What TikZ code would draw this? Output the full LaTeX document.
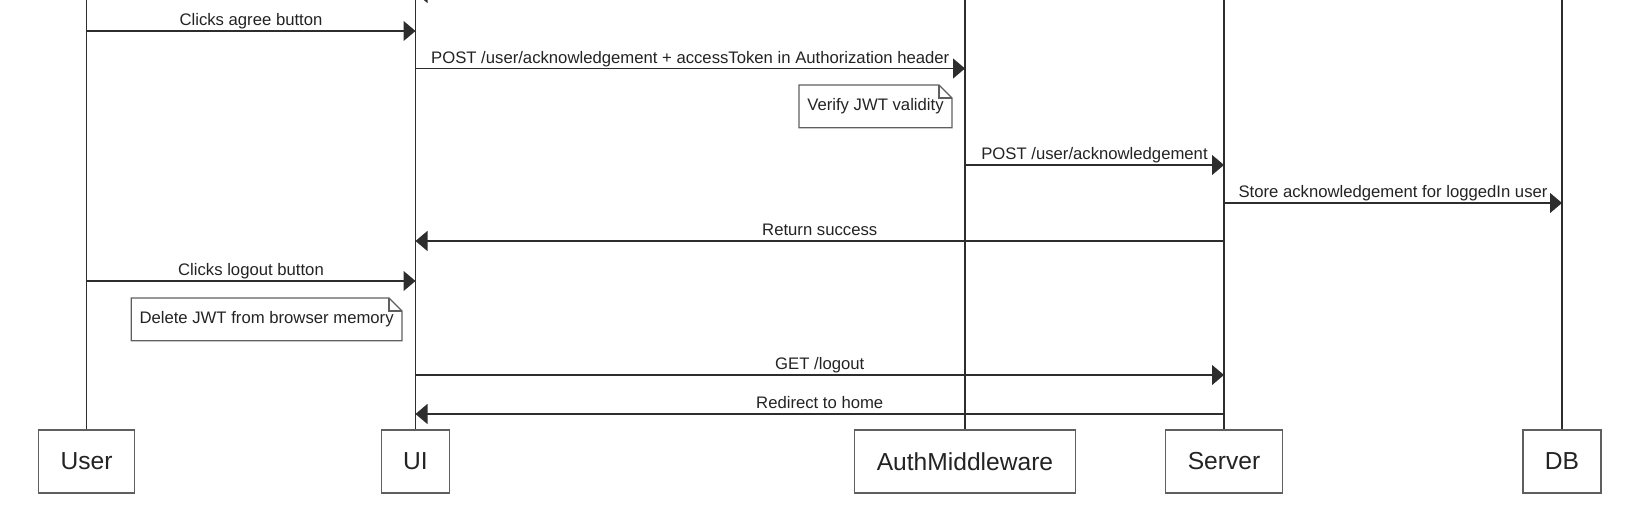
\documentclass[tikz,border=0pt]{standalone}
\usepackage{fontspec}
\setmainfont{Liberation Sans}
\usetikzlibrary{positioning,arrows.meta}
\definecolor{lineclr}{RGB}{45,45,45}
\definecolor{boxline}{RGB}{95,95,95}
\definecolor{txtclr}{RGB}{35,35,35}
% note with a folded top-right corner, drawn round a named node
\newcommand{\notefold}[1]{%
  \draw[noteline] (#1.north west) -- ([xshift=-0.26cm]#1.north east) -- ([yshift=-0.26cm]#1.north east) -- (#1.south east) -- (#1.south west) -- cycle;
  \draw[noteline] ([xshift=-0.26cm]#1.north east) |- ([yshift=-0.26cm]#1.north east);}

\begin{document}
\begin{tikzpicture}[x=0.02cm, y=-0.02cm,
  font=\fontsize{9.5}{11}\selectfont, text=txtclr,
  actor/.style={draw=boxline, line width=0.7pt, fill=white, minimum height=1.26cm, inner xsep=0.44cm, font=\fontsize{14}{16}\selectfont},
  life/.style={draw=lineclr, line width=0.6pt},
  arr/.style={draw=lineclr, line width=0.7pt, -{Triangle[length=0.24cm, width=0.4cm]}},
  lab/.style={anchor=base, yshift=0.1cm, inner sep=0pt},
  note/.style={minimum height=0.84cm, inner xsep=0.16cm},
  noteline/.style={draw=boxline, line width=0.7pt}]

\useasboundingbox (0,0) rectangle (1647,509);

% participants along the bottom
\node[actor] (user) at (86.5,461.5) {User};
\node[actor] (ui) at (415.5,461.5) {UI};
\node[actor] (auth) at (965,461.5) {AuthMiddleware};
\node[actor] (server) at (1224,461.5) {Server};
\node[actor] (db) at (1562,461.5) {DB};

% lifelines run off the top edge
\draw[life] (user.north) -- (user.north |- 0,-30);
\draw[life] (ui.north) -- (ui.north |- 0,-30);
\draw[life] (auth.north) -- (auth.north |- 0,-30);
\draw[life] (server.north) -- (server.north |- 0,-30);
\draw[life] (db.north) -- (db.north |- 0,-30);

% messages, top to bottom
\draw[arr] (server.north |- 0,-7) -- (ui.north |- 0,-7);
\draw[arr] (user.north |- 0,31) -- node[lab] {Clicks agree button} (ui.north |- 0,31);
\draw[arr] (ui.north |- 0,68.5) -- node[lab] {POST /user/acknowledgement + accessToken in Authorization header} (auth.north |- 0,68.5);
\node[note, anchor=north east] (verify) at (952,85) {Verify JWT validity};
\notefold{verify}
\draw[arr] (auth.north |- 0,165) -- node[lab] {POST /user/acknowledgement} (server.north |- 0,165);
\draw[arr] (server.north |- 0,203) -- node[lab] {Store acknowledgement for loggedIn user} (db.north |- 0,203);
\draw[arr] (server.north |- 0,241) -- node[lab] {Return success} (ui.north |- 0,241);
\draw[arr] (user.north |- 0,281) -- node[lab] {Clicks logout button} (ui.north |- 0,281);
\node[note, anchor=north east] (delmem) at (402,298) {Delete JWT from browser memory};
\notefold{delmem}
\draw[arr] (ui.north |- 0,375) -- node[lab] {GET /logout} (server.north |- 0,375);
\draw[arr] (server.north |- 0,414) -- node[lab] {Redirect to home} (ui.north |- 0,414);
\end{tikzpicture}
\end{document}
